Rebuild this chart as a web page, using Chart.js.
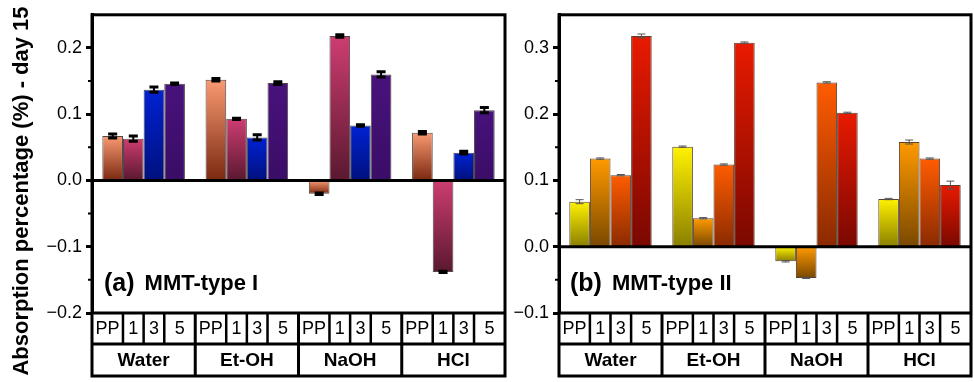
<!DOCTYPE html>
<html lang="en">
<head>
  <meta charset="UTF-8">
  <title>Absorption percentage - day 15</title>
  <script src="https://cdn.jsdelivr.net/npm/chart.js"></script>
  <style>
    body {
      margin: 0;
      padding: 0;
      background-color: #fff;
      font-family: "Liberation Sans", Arial, sans-serif;
    }
    #wrap {
      position: relative;
      width: 974px;
      height: 382px;
      overflow: hidden;
    }
    .panel {
      position: absolute;
      top: 0;
      height: 382px;
    }
    #panelA { left: 0; width: 510px; }
    #panelB { left: 510px; width: 464px; }
  </style>
</head>
<body>
  <div id="wrap">
    <div class="panel" id="panelA"><canvas id="chartA"></canvas></div>
    <div class="panel" id="panelB"><canvas id="chartB"></canvas></div>
  </div>

  <script>
    // categories
    const groups = ['Water', 'Et-OH', 'NaOH', 'HCl'];
    const series = ['PP', '1', '3', '5'];

    // (a) MMT-type I values and error bars
    const typeI_PP = [0.067, 0.152, -0.020, 0.072];
    const typeI_1 = [0.063, 0.093, 0.218, -0.138];
    const typeI_3 = [0.137, 0.065, 0.083, 0.042];
    const typeI_5 = [0.146, 0.147, 0.160, 0.106];
    const errI_PP = [0.003, 0.002, 0.001, 0.002];
    const errI_1 = [0.004, 0.001, 0.002, 0.001];
    const errI_3 = [0.004, 0.004, 0.001, 0.002];
    const errI_5 = [0.001, 0.002, 0.004, 0.004];

    // (b) MMT-type II values and error bars
    const typeII_PP = [0.068, 0.151, -0.022, 0.072];
    const typeII_1 = [0.133, 0.043, -0.047, 0.158];
    const typeII_3 = [0.108, 0.124, 0.248, 0.133];
    const typeII_5 = [0.318, 0.308, 0.202, 0.093];
    const errII_PP = [0.003, 0.001, 0.001, 0.001];
    const errII_1 = [0.001, 0.001, 0.001, 0.003];
    const errII_3 = [0.001, 0.001, 0.001, 0.001];
    const errII_5 = [0.003, 0.001, 0.001, 0.006];

    // tick labels
    const ticksI = [-0.2, -0.1, 0.0, 0.1, 0.2];
    const ticksII = [-0.1, 0.0, 0.1, 0.2, 0.3];
    const minorI = [-0.15, -0.05, 0.05, 0.15];
    const minorII = [-0.05, 0.05, 0.15, 0.25];

    const FONT = '"Liberation Sans", Arial, sans-serif';
    Chart.defaults.font.family = FONT;
    Chart.defaults.color = '#000';

    // vertical gradient per bar, light at the top, dark at the bottom
    function grad(top, bottom) {
      return function(ctx) {
        const chart = ctx.chart;
        if (!chart.chartArea || ctx.type !== 'data') return top;
        const y = chart.scales.y;
        const p1 = y.getPixelForValue(ctx.raw);
        const p0 = y.getPixelForValue(0);
        const a = Math.min(p0, p1), b = Math.max(p0, p1);
        if (b - a < 1) return top;
        const g = chart.ctx.createLinearGradient(0, a, 0, b);
        g.addColorStop(0, top);
        g.addColorStop(1, bottom);
        return g;
      };
    }

    function fmt(v) {
      const s = Math.abs(v).toFixed(1);
      return v < -1e-9 ? '\u2212' + s : s;
    }

    // frame, zero line, minor ticks, error bars, category table and labels
    const decor = {
      id: 'decor',
      afterDatasetsDraw(chart, args, opts) {
        const ctx = chart.ctx;
        const area = chart.chartArea;
        const y = chart.scales.y;

        // error bars
        chart.data.datasets.forEach((ds, i) => {
          const meta = chart.getDatasetMeta(i);
          meta.data.forEach((el, j) => {
            const v = ds.data[j], e = ds.errors[j];
            const yt = y.getPixelForValue(v + e);
            const yb = y.getPixelForValue(v - e);
            ctx.save();
            ctx.strokeStyle = opts.errColor;
            ctx.lineWidth = opts.errWidth;
            ctx.beginPath();
            ctx.moveTo(el.x, yt); ctx.lineTo(el.x, yb);
            ctx.stroke();
            ctx.lineWidth = opts.capWidth;
            ctx.beginPath();
            ctx.moveTo(el.x - opts.cap, yt); ctx.lineTo(el.x + opts.cap, yt);
            ctx.moveTo(el.x - opts.cap, yb); ctx.lineTo(el.x + opts.cap, yb);
            ctx.stroke();
            ctx.restore();
          });
        });

        // zero line
        const y0 = y.getPixelForValue(0);
        ctx.save();
        ctx.strokeStyle = '#000';
        ctx.lineWidth = 3;
        ctx.beginPath();
        ctx.moveTo(area.left, y0); ctx.lineTo(area.right, y0);
        ctx.stroke();
        ctx.restore();
      },
      afterDraw(chart, args, opts) {
        const ctx = chart.ctx;
        const area = chart.chartArea;
        const y = chart.scales.y;
        const r1 = area.bottom, r2 = r1 + 31, r3 = r2 + 32;
        const gw = (area.right - area.left) / groups.length;

        ctx.save();
        ctx.strokeStyle = '#000';

        // minor ticks
        ctx.lineWidth = 2;
        ctx.beginPath();
        opts.minor.forEach(v => {
          const p = y.getPixelForValue(v);
          ctx.moveTo(area.left - 4, p); ctx.lineTo(area.left, p);
        });
        ctx.stroke();

        // outer frame and table rows
        ctx.lineWidth = 3;
        ctx.strokeRect(area.left, area.top, area.right - area.left, r3 - area.top);
        ctx.beginPath();
        ctx.moveTo(area.left, r1); ctx.lineTo(area.right, r1);
        ctx.moveTo(area.left, r2); ctx.lineTo(area.right, r2);
        ctx.stroke();

        ctx.fillStyle = '#000';
        ctx.textAlign = 'center';
        ctx.textBaseline = 'middle';
        groups.forEach((gName, g) => {
          const gl = area.left + g * gw, gr = gl + gw;
          ctx.lineWidth = 3;
          if (g > 0) {
            ctx.beginPath();
            ctx.moveTo(gl, r1); ctx.lineTo(gl, r3);
            ctx.stroke();
          }
          const edges = [gl];
          for (let i = 0; i < series.length - 1; i++) {
            const el = chart.getDatasetMeta(i).data[g];
            edges.push(el.x + el.width / 2);
          }
          edges.push(gr);
          ctx.lineWidth = 2.5;
          ctx.beginPath();
          for (let k = 1; k < edges.length - 1; k++) {
            ctx.moveTo(edges[k], r1); ctx.lineTo(edges[k], r2);
          }
          ctx.stroke();
          ctx.font = '18px ' + FONT;
          series.forEach((s, k) => {
            ctx.fillText(s, (edges[k] + edges[k + 1]) / 2, (r1 + r2) / 2 + 1);
          });
          ctx.font = 'bold 19px ' + FONT;
          ctx.fillText(gName, (gl + gr) / 2, (r2 + r3) / 2 + 1);
        });

        // panel label
        ctx.textAlign = 'left';
        ctx.textBaseline = 'alphabetic';
        const lx = area.left + opts.labelDx;
        ctx.font = 'bold 25px ' + FONT;
        ctx.fillText(opts.tag, lx, 291);
        const w = ctx.measureText(opts.tag).width;
        ctx.font = 'bold 22px ' + FONT;
        ctx.fillText(opts.label, lx + w + 10, 290);

        // y axis title
        if (opts.yTitle) {
          ctx.save();
          ctx.translate(22, 191);
          ctx.rotate(-Math.PI / 2);
          ctx.textAlign = 'center';
          ctx.textBaseline = 'middle';
          ctx.font = 'bold 22px ' + FONT;
          ctx.fillText(opts.yTitle, 0, 0);
          ctx.restore();
        }
        ctx.restore();
      }
    };

    function makeChart(id, values, errors, colors, cfg) {
      new Chart(document.getElementById(id), {
        type: 'bar',
        data: {
          labels: groups,
          datasets: series.map((s, i) => ({
            label: s,
            data: values[i],
            errors: errors[i],
            backgroundColor: grad(colors[i][0], colors[i][1]),
            borderColor: cfg.border,
            borderWidth: 1,
            categoryPercentage: 0.8,
            barPercentage: 1.0
          }))
        },
        options: {
          responsive: true,
          maintainAspectRatio: false,
          animation: false,
          layout: { padding: { left: 0, top: 11, right: cfg.padRight, bottom: 69 } },
          plugins: {
            legend: { display: false },
            tooltip: { enabled: false },
            decor: cfg.decor
          },
          scales: {
            x: { display: false },
            y: {
              min: cfg.min,
              max: cfg.max,
              afterBuildTicks: s => { s.ticks = cfg.ticks.map(v => ({ value: v })); },
              afterFit: s => { s.width = cfg.axisWidth; },
              ticks: {
                callback: v => fmt(v),
                font: { size: 18 },
                color: '#000',
                padding: 4
              },
              grid: {
                drawOnChartArea: false,
                tickLength: 6,
                tickWidth: 3,
                tickColor: '#000'
              },
              border: { display: true, width: 3, color: '#000' }
            }
          }
        },
        plugins: [decor]
      });
    }

    makeChart('chartA',
      [typeI_PP, typeI_1, typeI_3, typeI_5],
      [errI_PP, errI_1, errI_3, errI_5],
      [['#f99b72', '#7a2810'], ['#cd3d71', '#5a1830'], ['#0022d2', '#00107e'], ['#48127c', '#3a0d66']],
      {
        min: -0.2, max: 0.25, ticks: ticksI, axisWidth: 92, padRight: 5,
        border: 'rgba(50,40,40,0.85)',
        decor: {
          minor: minorI, errColor: '#000', errWidth: 2, capWidth: 3, cap: 4.5,
          tag: '(a)', label: 'MMT-type I', labelDx: 12,
          yTitle: 'Absorption percentage (%) - day 15'
        }
      });

    makeChart('chartB',
      [typeII_PP, typeII_1, typeII_3, typeII_5],
      [errII_PP, errII_1, errII_3, errII_5],
      [['#fff200', '#8a7f00'], ['#ff9a00', '#7a4800'], ['#ff5c00', '#8a2a00'], ['#e81a00', '#7a0800']],
      {
        min: -0.1, max: 0.35, ticks: ticksII, axisWidth: 49, padRight: 3,
        border: 'rgba(60,30,10,0.85)',
        decor: {
          minor: minorII, errColor: '#555', errWidth: 1, capWidth: 1, cap: 4,
          tag: '(b)', label: 'MMT-type II', labelDx: 11,
          yTitle: null
        }
      });
  </script>
</body>
</html>
